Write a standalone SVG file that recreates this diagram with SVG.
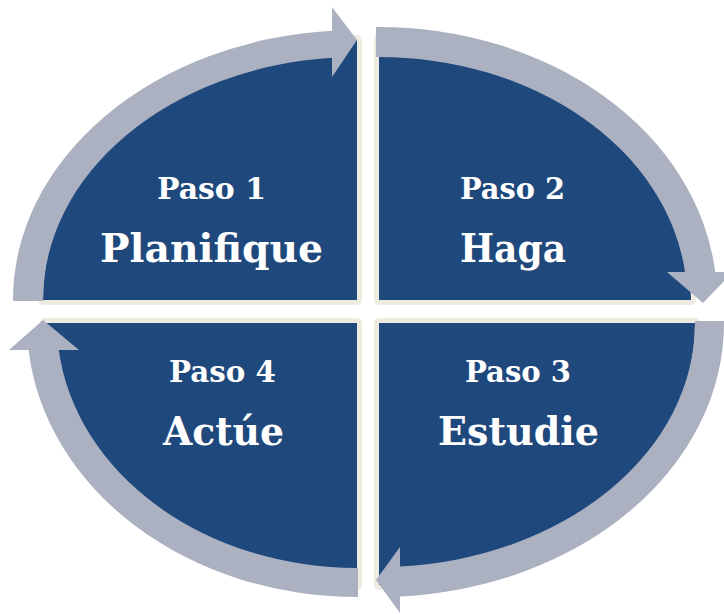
<svg xmlns="http://www.w3.org/2000/svg" width="724" height="614" viewBox="0 0 724 614">
<style>
.glow{fill:#EEEBE1;stroke:#EEEBE1;stroke-width:10;stroke-linejoin:round}
.sector{fill:#1F497D}
.arrow{fill:#ABB1C0}
.t1{font-family:"DejaVu Serif","Liberation Serif",serif;font-weight:bold;font-size:30px;fill:#FFFFFF;text-anchor:middle}
.t2{font-family:"DejaVu Serif","Liberation Serif",serif;font-weight:bold;font-size:40px;fill:#FFFFFF;text-anchor:middle}
</style>
<rect width="724" height="614" fill="#FFFFFF"/>
<g id="paso1">
<path class="glow" d="M357,300 L43,300 A314,260 0 0 1 357,40 Z"/>
<path class="sector" d="M357,300 L43,300 A314,260 0 0 1 357,40 Z"/>
</g>
<g id="paso2">
<path class="glow" d="M379,300 L379,38 A312,262 0 0 1 691,300 Z"/>
<path class="sector" d="M379,300 L379,38 A312,262 0 0 1 691,300 Z"/>
</g>
<g id="paso3">
<path class="glow" d="M379,323 L695,323 A316,262 0 0 1 379,585 Z"/>
<path class="sector" d="M379,323 L695,323 A316,262 0 0 1 379,585 Z"/>
</g>
<g id="paso4">
<path class="glow" d="M357,323 L357,585 A312,262 0 0 1 45,323 Z"/>
<path class="sector" d="M357,323 L357,585 A312,262 0 0 1 45,323 Z"/>
</g>
<g id="connectors">
<path class="arrow" d="M13,301 L43,301 L43,300 A314,243 0 0 1 332,57.8 L332,77 L357,40 L332,7 L332,30.7 A344,270 0 0 0 13,300 Z"/>
<path class="arrow" d="M376,27 A338,273 0 0 1 715.2,272 L733,272 L703,303 L667,272 L685,272 A308,243 0 0 0 376,57 Z"/>
<path class="arrow" d="M724,321 L695,321 L695,323 A316,244 0 0 1 400,566.5 L400,547 L376,580 L400,613 L400,596.5 A345,274 0 0 0 724,323 Z"/>
<path class="arrow" d="M358,597 A330,274 0 0 1 28.6,350 L9,350 L43,320 L79,350 L58.8,350 A300,245 0 0 0 358,568 Z"/>
</g>
<g id="labels">
<text class="t1" x="211.5" y="199" textLength="109" lengthAdjust="spacingAndGlyphs">Paso 1</text>
<text class="t2" x="211.5" y="262" textLength="223" lengthAdjust="spacingAndGlyphs">Planifique</text>
<text class="t1" x="512.5" y="199" textLength="105" lengthAdjust="spacingAndGlyphs">Paso 2</text>
<text class="t2" x="513" y="262" textLength="106" lengthAdjust="spacingAndGlyphs">Haga</text>
<text class="t1" x="518" y="382" textLength="106" lengthAdjust="spacingAndGlyphs">Paso 3</text>
<text class="t2" x="518.5" y="445" textLength="161" lengthAdjust="spacingAndGlyphs">Estudie</text>
<text class="t1" x="222.5" y="382" textLength="107" lengthAdjust="spacingAndGlyphs">Paso 4</text>
<text class="t2" x="223.5" y="445" textLength="121" lengthAdjust="spacingAndGlyphs">Actúe</text>
</g>
</svg>
